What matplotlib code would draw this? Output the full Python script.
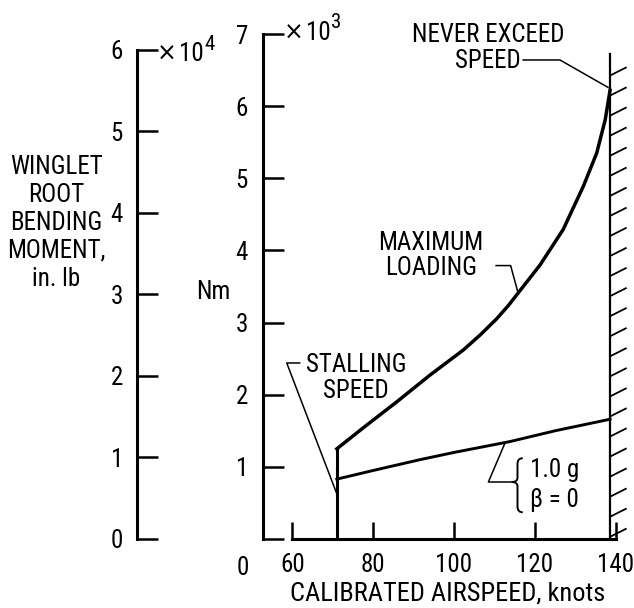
import numpy as np
import matplotlib
matplotlib.use("Agg")
import matplotlib.pyplot as plt
from matplotlib import font_manager as fm
from matplotlib.path import Path
from matplotlib.patches import PathPatch

# ---- pick a narrow sans font if one is installed ----
_fonts = fm.fontManager.ttflist
_names = {f.name for f in _fonts}
STRETCH = 'normal'
if 'Liberation Sans Narrow' in _names:
    FAMILY, FS = ['Liberation Sans Narrow', 'DejaVu Sans'], 18
elif 'Roboto Condensed' in _names:
    FAMILY, FS = ['Roboto Condensed', 'DejaVu Sans'], 18
elif any(f.name == 'DejaVu Sans' and str(f.stretch) in ('condensed', 'semi-condensed')
         for f in _fonts):
    FAMILY, FS, STRETCH = ['DejaVu Sans'], 17, 'condensed'
elif 'Open Sans Condensed' in _names:
    FAMILY, FS = ['Open Sans Condensed', 'DejaVu Sans'], 18
else:
    FAMILY, FS = ['DejaVu Sans'], 16.5
plt.rcParams['font.family'] = FAMILY
plt.rcParams['font.stretch'] = STRETCH

# ---- data ----
max_x = [71.0, 77.5, 85.8, 94.0, 102.3, 106.5, 110.5, 113.5, 116.0, 121.3, 127.0, 132.0, 135.3, 137.4, 138.6]
max_y = [1.25, 1.54, 1.90, 2.27, 2.62, 2.83, 3.05, 3.24, 3.42, 3.80, 4.29, 4.89, 5.35, 5.81, 6.22]
g1_x = [71.0, 80, 91.6, 100, 113.8, 125, 138.6]
g1_y = [0.83, 0.95, 1.10, 1.20, 1.35, 1.50, 1.66]
stall_speed = 71.0
vne_speed = 138.6
x_ticks = [60, 80, 100, 120, 140]
nm_ticks = [0, 1, 2, 3, 4, 5, 6, 7]
inlb_ticks = [0, 1, 2, 3, 4, 5, 6]
NM_TO_INLB = 8.8507 / 10.0   # 1e3 Nm -> 1e4 in.lb

W, H = 634, 608
fig = plt.figure(figsize=(W / 100, H / 100), dpi=100)

def fx(px):
    return px / W

def fy(py):
    return 1 - py / H

ax_l, ax_r, ax_b, ax_t = 263.3, 615.7, 539.0, 34.0
ax = fig.add_axes([fx(ax_l), fy(ax_b), (ax_r - ax_l) / W, (ax_b - ax_t) / H])
ax.set_xlim(52.8, 140)
ax.set_ylim(0, 7)
ax.patch.set_visible(False)

LW_AX = 2.2

for s in ['top', 'right']:
    ax.spines[s].set_visible(False)
ax.spines['left'].set_bounds(0, 7)
ax.spines['bottom'].set_bounds(60, 140)
ax.spines['left'].set_linewidth(LW_AX)
ax.spines['bottom'].set_linewidth(LW_AX)
ax.set_xticks(x_ticks)
ax.set_xticklabels([str(v) for v in x_ticks])
ax.set_yticks(nm_ticks)
ax.set_yticklabels([''] + [str(v) for v in nm_ticks[1:]])
ax.tick_params(axis='x', direction='in', length=12, width=1.8, pad=10, labelsize=FS)
ax.tick_params(axis='y', direction='in', length=15, width=1.8, pad=11, labelsize=FS)

# secondary axis (in.lb x 1e4)
ax2 = ax.twinx()
ax2.set_ylim(0, 7 * NM_TO_INLB)
for s in ['top', 'right', 'bottom']:
    ax2.spines[s].set_visible(False)
ax2.spines['left'].set_visible(True)
ax2.spines['left'].set_position(('axes', (137 - ax_l) / (ax_r - ax_l)))
ax2.spines['left'].set_bounds(0, 6)
ax2.spines['left'].set_linewidth(LW_AX)
ax2.yaxis.set_ticks_position('left')
ax2.set_yticks(inlb_ticks)
ax2.set_yticklabels([str(v) for v in inlb_ticks])
ax2.tick_params(axis='y', direction='in', length=15, width=1.8, pad=10, labelsize=FS)

# curves
ax.plot(max_x, max_y, color='black', lw=2.5, zorder=3)
ax.plot(g1_x, g1_y, color='black', lw=2.1, zorder=3)
ax.plot([stall_speed, stall_speed], [0, max_y[0]], color='black', lw=2.2, zorder=3)

# never-exceed wall with hatching
wall_top = 6.72
ax.plot([vne_speed, vne_speed], [0, wall_top], color='black', lw=1.6, clip_on=False)
for yh in np.arange(0.03, wall_top - 0.1, 0.278):
    ax.plot([vne_speed, vne_speed + 3.9], [yh, yh + 0.11], color='black', lw=1.3,
            clip_on=False)

# annotations
lk = dict(color='black', lw=1.1, clip_on=False)
ax.text(108.4, 6.80, 'NEVER EXCEED\nSPEED', ha='center', va='center', fontsize=FS,
        linespacing=1.1)
ax.plot([117.1, 126.2, 138.1], [6.64, 6.64, 6.26], **lk)

ax.text(94.3, 3.93, 'MAXIMUM\nLOADING', ha='center', va='center', fontsize=FS,
        linespacing=1.1)
ax.plot([110.4, 114.0, 115.9], [3.79, 3.79, 3.40], **lk)

ax.text(75.8, 2.23, 'STALLING\nSPEED', ha='center', va='center', fontsize=FS,
        linespacing=1.1)
ax.plot([61.8, 58.6, 71.1], [2.44, 2.44, 0.61], **lk)

# 1.0 g leader and brace
ax.plot([112.6, 108.5, 114.3], [1.33, 0.79, 0.79], **lk)
bx0, bx1, bx2 = 114.3, 115.7, 117.0
by_top, by_mid, by_bot = 1.12, 0.79, 0.37
verts = [(bx2, by_top), (bx1, by_top), (bx1, by_top - 0.08),
         (bx1, by_mid + 0.06), (bx1, by_mid), (bx0, by_mid),
         (bx1, by_mid), (bx1, by_mid - 0.06),
         (bx1, by_bot + 0.08), (bx1, by_bot), (bx2, by_bot)]
codes = [Path.MOVETO, Path.CURVE3, Path.CURVE3, Path.LINETO, Path.CURVE3, Path.CURVE3,
         Path.CURVE3, Path.CURVE3, Path.LINETO, Path.CURVE3, Path.CURVE3]
ax.add_patch(PathPatch(Path(verts, codes), fill=False, lw=1.4, color='black',
                       clip_on=False))
ax.text(118.8, 0.96, '1.0 g', ha='left', va='center', fontsize=FS)
ax.text(118.8, 0.54, 'β = 0', ha='left', va='center', fontsize=FS)

# axis labels and extra text
fig.text(fx(56), fy(223), 'WINGLET\nROOT\nBENDING\nMOMENT,\nin. lb', ha='center',
         va='center', fontsize=FS, linespacing=1.2)
fig.text(fx(213), fy(292), 'Nm', ha='center', va='center', fontsize=FS)
fig.text(fx(448), fy(601), 'CALIBRATED AIRSPEED, knots', ha='center', va='baseline',
         fontsize=FS + 1)
fig.text(fx(243), fy(568), '0', ha='center', va='center', fontsize=FS)

# "x10^n" multipliers: place pieces one after another using the renderer
renderer = fig.canvas.get_renderer()

def multiplier(px, py, exp):
    t1 = fig.text(fx(px), fy(py), '×', ha='left', va='center', fontsize=FS - 1,
                  family=['DejaVu Sans'])
    e1 = t1.get_window_extent(renderer)
    t2 = fig.text((e1.x1 + 2) / W, fy(py), '10', ha='left', va='center', fontsize=FS)
    e2 = t2.get_window_extent(renderer)
    fig.text((e2.x1 + 1) / W, fy(py - 10), exp, ha='left', va='center',
             fontsize=FS - 3)

multiplier(157, 54, '4')
multiplier(284, 33, '3')

fig.savefig('out.png', dpi=100)
